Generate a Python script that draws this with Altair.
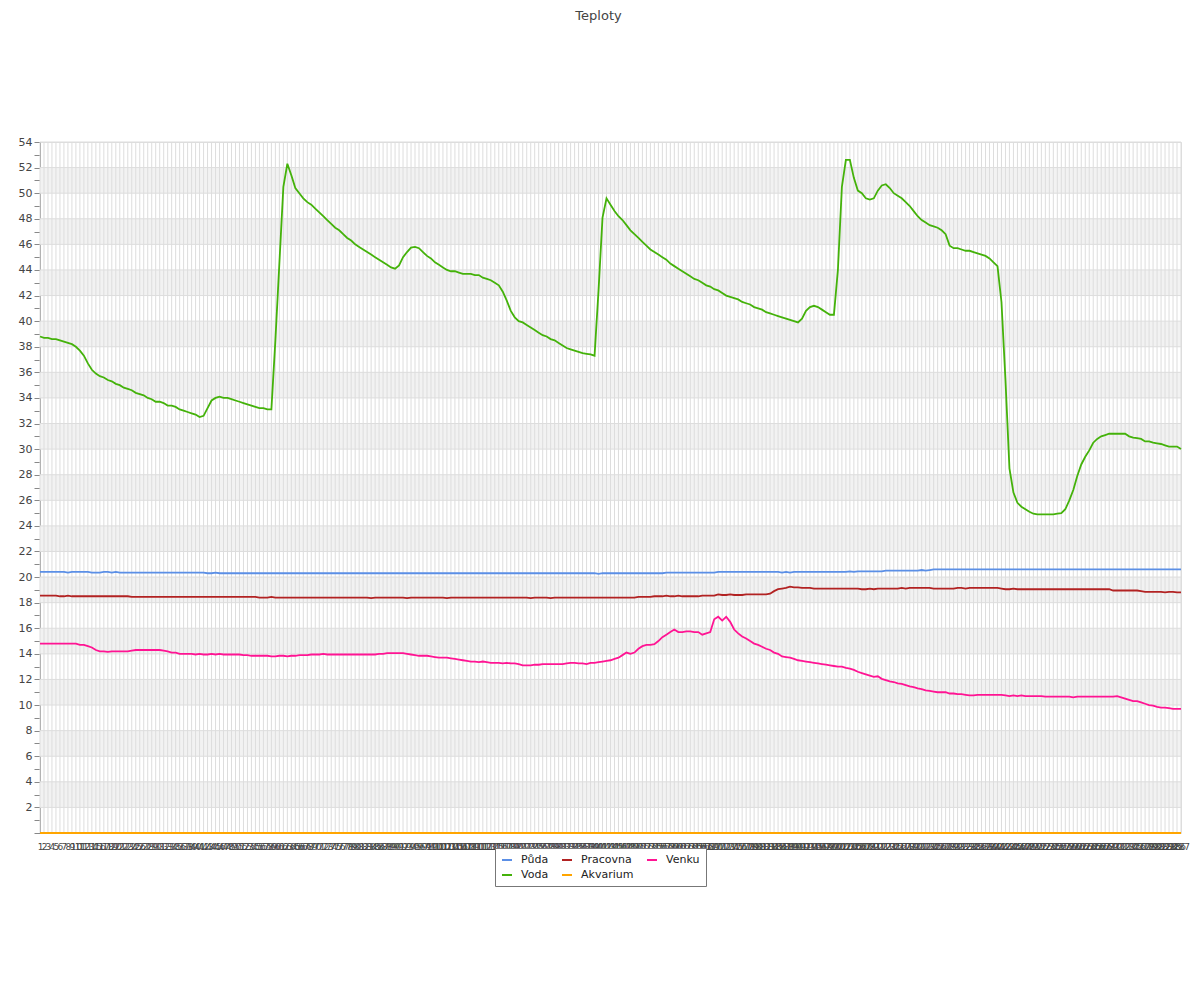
import altair as alt
import pandas as pd

labels = [str(i) for i in range(1, 288)]

puda = [
    20.4, 20.4, 20.4, 20.4, 20.4, 20.4, 20.4, 20.35, 20.4, 20.4,
    20.4, 20.4, 20.4, 20.35, 20.35, 20.35, 20.4, 20.4, 20.35, 20.4,
    20.35, 20.35, 20.35, 20.35, 20.35, 20.35, 20.35, 20.35, 20.35, 20.35,
    20.35, 20.35, 20.35, 20.35, 20.35, 20.35, 20.35, 20.35, 20.35, 20.35,
    20.35, 20.35, 20.3, 20.3, 20.35, 20.3, 20.3, 20.3, 20.3, 20.3,
    20.3, 20.3, 20.3, 20.3, 20.3, 20.3, 20.3, 20.3, 20.3, 20.3,
    20.3, 20.3, 20.3, 20.3, 20.3, 20.3, 20.3, 20.3, 20.3, 20.3,
    20.3, 20.3, 20.3, 20.3, 20.3, 20.3, 20.3, 20.3, 20.3, 20.3,
    20.3, 20.3, 20.3, 20.3, 20.3, 20.3, 20.3, 20.3, 20.3, 20.3,
    20.3, 20.3, 20.3, 20.3, 20.3, 20.3, 20.3, 20.3, 20.3, 20.3,
    20.3, 20.3, 20.3, 20.3, 20.3, 20.3, 20.3, 20.3, 20.3, 20.3,
    20.3, 20.3, 20.3, 20.3, 20.3, 20.3, 20.3, 20.3, 20.3, 20.3,
    20.3, 20.3, 20.3, 20.3, 20.3, 20.3, 20.3, 20.3, 20.3, 20.3,
    20.3, 20.3, 20.3, 20.3, 20.3, 20.3, 20.3, 20.3, 20.3, 20.3,
    20.25, 20.3, 20.3, 20.3, 20.3, 20.3, 20.3, 20.3, 20.3, 20.3,
    20.3, 20.3, 20.3, 20.3, 20.3, 20.3, 20.3, 20.35, 20.35, 20.35,
    20.35, 20.35, 20.35, 20.35, 20.35, 20.35, 20.35, 20.35, 20.35, 20.35,
    20.4, 20.4, 20.4, 20.4, 20.4, 20.4, 20.4, 20.4, 20.4, 20.4,
    20.4, 20.4, 20.4, 20.4, 20.4, 20.4, 20.35, 20.4, 20.35, 20.4,
    20.4, 20.4, 20.4, 20.4, 20.4, 20.4, 20.4, 20.4, 20.4, 20.4,
    20.4, 20.4, 20.4, 20.45, 20.4, 20.45, 20.45, 20.45, 20.45, 20.45,
    20.45, 20.45, 20.5, 20.5, 20.5, 20.5, 20.5, 20.5, 20.5, 20.5,
    20.5, 20.55, 20.5, 20.55, 20.6, 20.6, 20.6, 20.6, 20.6, 20.6,
    20.6, 20.6, 20.6, 20.6, 20.6, 20.6, 20.6, 20.6, 20.6, 20.6,
    20.6, 20.6, 20.6, 20.6, 20.6, 20.6, 20.6, 20.6, 20.6, 20.6,
    20.6, 20.6, 20.6, 20.6, 20.6, 20.6, 20.6, 20.6, 20.6, 20.6,
    20.6, 20.6, 20.6, 20.6, 20.6, 20.6, 20.6, 20.6, 20.6, 20.6,
    20.6, 20.6, 20.6, 20.6, 20.6, 20.6, 20.6, 20.6, 20.6, 20.6,
    20.6, 20.6, 20.6, 20.6, 20.6, 20.6, 20.6,
]

voda = [
    38.8, 38.7, 38.7, 38.6, 38.6, 38.5, 38.4, 38.3, 38.2, 38.0,
    37.7, 37.3, 36.7, 36.2, 35.9, 35.7, 35.6, 35.4, 35.3, 35.1,
    35.0, 34.8, 34.7, 34.6, 34.4, 34.3, 34.2, 34.0, 33.9, 33.7,
    33.7, 33.6, 33.4, 33.4, 33.3, 33.1, 33.0, 32.9, 32.8, 32.7,
    32.5, 32.6, 33.2, 33.8, 34.0, 34.1, 34.0, 34.0, 33.9, 33.8,
    33.7, 33.6, 33.5, 33.4, 33.3, 33.2, 33.2, 33.1, 33.1, 38.5,
    44.5, 50.5, 52.3, 51.4, 50.4, 50.0, 49.6, 49.3, 49.1, 48.8,
    48.5, 48.2, 47.9, 47.6, 47.3, 47.1, 46.8, 46.5, 46.3, 46.0,
    45.8, 45.6, 45.4, 45.2, 45.0, 44.8, 44.6, 44.4, 44.2, 44.1,
    44.35, 45.0, 45.4, 45.75, 45.8, 45.7, 45.4, 45.1, 44.9, 44.6,
    44.4, 44.2, 44.0, 43.9, 43.9, 43.8, 43.7, 43.7, 43.7, 43.6,
    43.6, 43.4, 43.3, 43.2, 43.0, 42.8, 42.3, 41.6, 40.8, 40.3,
    40.0, 39.9, 39.7, 39.5, 39.3, 39.1, 38.9, 38.8, 38.6, 38.5,
    38.3, 38.1, 37.9, 37.8, 37.7, 37.6, 37.5, 37.45, 37.4, 37.3,
    42.4, 48.1, 49.6, 49.1, 48.6, 48.2, 47.9, 47.5, 47.1, 46.8,
    46.5, 46.2, 45.9, 45.6, 45.4, 45.2, 45.0, 44.8, 44.5, 44.3,
    44.1, 43.9, 43.7, 43.5, 43.3, 43.2, 43.0, 42.8, 42.7, 42.5,
    42.4, 42.2, 42.0, 41.9, 41.8, 41.7, 41.5, 41.4, 41.3, 41.1,
    41.0, 40.9, 40.7, 40.6, 40.5, 40.4, 40.3, 40.2, 40.1, 40.0,
    39.9, 40.2, 40.8, 41.1, 41.2, 41.1, 40.9, 40.7, 40.5, 40.5,
    44.0, 50.5, 52.6, 52.6, 51.2, 50.2, 50.0, 49.6, 49.5, 49.6,
    50.2, 50.6, 50.7, 50.4, 50.0, 49.8, 49.6, 49.3, 49.0, 48.6,
    48.2, 47.9, 47.7, 47.5, 47.4, 47.3, 47.1, 46.8, 45.9, 45.7,
    45.7, 45.6, 45.5, 45.5, 45.4, 45.3, 45.2, 45.1, 44.9, 44.6,
    44.3, 41.5, 35.4, 28.5, 26.6, 25.8, 25.5, 25.3, 25.1, 24.95,
    24.9, 24.9, 24.9, 24.9, 24.9, 24.95, 25.0, 25.3, 26.0, 26.8,
    27.9, 28.8, 29.4, 29.9, 30.5, 30.8, 31.0, 31.1, 31.2, 31.2,
    31.2, 31.2, 31.2, 31.0, 30.9, 30.85, 30.8, 30.6, 30.6, 30.5,
    30.45, 30.4, 30.3, 30.2, 30.2, 30.2, 30.0,
]

pracovna = [
    18.55, 18.55, 18.55, 18.55, 18.55, 18.5, 18.5, 18.55, 18.5, 18.5,
    18.5, 18.5, 18.5, 18.5, 18.5, 18.5, 18.5, 18.5, 18.5, 18.5,
    18.5, 18.5, 18.5, 18.45, 18.45, 18.45, 18.45, 18.45, 18.45, 18.45,
    18.45, 18.45, 18.45, 18.45, 18.45, 18.45, 18.45, 18.45, 18.45, 18.45,
    18.45, 18.45, 18.45, 18.45, 18.45, 18.45, 18.45, 18.45, 18.45, 18.45,
    18.45, 18.45, 18.45, 18.45, 18.45, 18.4, 18.4, 18.4, 18.45, 18.4,
    18.4, 18.4, 18.4, 18.4, 18.4, 18.4, 18.4, 18.4, 18.4, 18.4,
    18.4, 18.4, 18.4, 18.4, 18.4, 18.4, 18.4, 18.4, 18.4, 18.4,
    18.4, 18.4, 18.4, 18.35, 18.4, 18.4, 18.4, 18.4, 18.4, 18.4,
    18.4, 18.4, 18.35, 18.4, 18.4, 18.4, 18.4, 18.4, 18.4, 18.4,
    18.4, 18.4, 18.35, 18.4, 18.4, 18.4, 18.4, 18.4, 18.4, 18.4,
    18.4, 18.4, 18.4, 18.4, 18.4, 18.4, 18.4, 18.4, 18.4, 18.4,
    18.4, 18.4, 18.4, 18.35, 18.4, 18.4, 18.4, 18.4, 18.35, 18.4,
    18.4, 18.4, 18.4, 18.4, 18.4, 18.4, 18.4, 18.4, 18.4, 18.4,
    18.4, 18.4, 18.4, 18.4, 18.4, 18.4, 18.4, 18.4, 18.4, 18.4,
    18.45, 18.45, 18.45, 18.45, 18.5, 18.5, 18.5, 18.55, 18.5, 18.5,
    18.55, 18.5, 18.5, 18.5, 18.5, 18.5, 18.55, 18.55, 18.55, 18.55,
    18.65, 18.6, 18.6, 18.65, 18.6, 18.6, 18.6, 18.65, 18.65, 18.65,
    18.65, 18.65, 18.65, 18.7, 18.9, 19.05, 19.1, 19.15, 19.25, 19.2,
    19.2, 19.15, 19.15, 19.15, 19.1, 19.1, 19.1, 19.1, 19.1, 19.1,
    19.1, 19.1, 19.1, 19.1, 19.1, 19.1, 19.05, 19.05, 19.1, 19.05,
    19.1, 19.1, 19.1, 19.1, 19.1, 19.1, 19.15, 19.1, 19.15, 19.15,
    19.15, 19.15, 19.15, 19.15, 19.1, 19.1, 19.1, 19.1, 19.1, 19.1,
    19.15, 19.15, 19.1, 19.15, 19.15, 19.15, 19.15, 19.15, 19.15, 19.15,
    19.15, 19.1, 19.05, 19.05, 19.1, 19.05, 19.05, 19.05, 19.05, 19.05,
    19.05, 19.05, 19.05, 19.05, 19.05, 19.05, 19.05, 19.05, 19.05, 19.05,
    19.05, 19.05, 19.05, 19.05, 19.05, 19.05, 19.05, 19.05, 19.05, 18.95,
    18.95, 18.95, 18.95, 18.95, 18.95, 18.95, 18.9, 18.85, 18.85, 18.85,
    18.85, 18.85, 18.8, 18.85, 18.85, 18.8, 18.8,
]

akvarium = [
    0, 0, 0, 0, 0, 0, 0, 0, 0, 0,
    0, 0, 0, 0, 0, 0, 0, 0, 0, 0,
    0, 0, 0, 0, 0, 0, 0, 0, 0, 0,
    0, 0, 0, 0, 0, 0, 0, 0, 0, 0,
    0, 0, 0, 0, 0, 0, 0, 0, 0, 0,
    0, 0, 0, 0, 0, 0, 0, 0, 0, 0,
    0, 0, 0, 0, 0, 0, 0, 0, 0, 0,
    0, 0, 0, 0, 0, 0, 0, 0, 0, 0,
    0, 0, 0, 0, 0, 0, 0, 0, 0, 0,
    0, 0, 0, 0, 0, 0, 0, 0, 0, 0,
    0, 0, 0, 0, 0, 0, 0, 0, 0, 0,
    0, 0, 0, 0, 0, 0, 0, 0, 0, 0,
    0, 0, 0, 0, 0, 0, 0, 0, 0, 0,
    0, 0, 0, 0, 0, 0, 0, 0, 0, 0,
    0, 0, 0, 0, 0, 0, 0, 0, 0, 0,
    0, 0, 0, 0, 0, 0, 0, 0, 0, 0,
    0, 0, 0, 0, 0, 0, 0, 0, 0, 0,
    0, 0, 0, 0, 0, 0, 0, 0, 0, 0,
    0, 0, 0, 0, 0, 0, 0, 0, 0, 0,
    0, 0, 0, 0, 0, 0, 0, 0, 0, 0,
    0, 0, 0, 0, 0, 0, 0, 0, 0, 0,
    0, 0, 0, 0, 0, 0, 0, 0, 0, 0,
    0, 0, 0, 0, 0, 0, 0, 0, 0, 0,
    0, 0, 0, 0, 0, 0, 0, 0, 0, 0,
    0, 0, 0, 0, 0, 0, 0, 0, 0, 0,
    0, 0, 0, 0, 0, 0, 0, 0, 0, 0,
    0, 0, 0, 0, 0, 0, 0, 0, 0, 0,
    0, 0, 0, 0, 0, 0, 0, 0, 0, 0,
    0, 0, 0, 0, 0, 0, 0,
]

venku = [
    14.8, 14.8, 14.8, 14.8, 14.8, 14.8, 14.8, 14.8, 14.8, 14.8,
    14.7, 14.7, 14.6, 14.5, 14.3, 14.2, 14.2, 14.15, 14.2, 14.2,
    14.2, 14.2, 14.2, 14.25, 14.3, 14.3, 14.3, 14.3, 14.3, 14.3,
    14.3, 14.25, 14.2, 14.1, 14.1, 14.0, 14.0, 14.0, 14.0, 13.95,
    14.0, 13.95, 13.95, 14.0, 13.95, 14.0, 13.95, 13.95, 13.95, 13.95,
    13.95, 13.9, 13.9, 13.85, 13.85, 13.85, 13.85, 13.85, 13.8, 13.8,
    13.85, 13.85, 13.8, 13.85, 13.85, 13.9, 13.9, 13.9, 13.95, 13.95,
    13.95, 14.0, 13.95, 13.95, 13.95, 13.95, 13.95, 13.95, 13.95, 13.95,
    13.95, 13.95, 13.95, 13.95, 13.95, 14.0, 14.0, 14.05, 14.05, 14.05,
    14.05, 14.05, 14.0, 13.95, 13.9, 13.85, 13.85, 13.85, 13.8, 13.75,
    13.7, 13.7, 13.7, 13.65, 13.6, 13.55, 13.5, 13.45, 13.4, 13.4,
    13.35, 13.4, 13.35, 13.3, 13.3, 13.3, 13.25, 13.3, 13.25, 13.25,
    13.2, 13.1, 13.1, 13.1, 13.15, 13.15, 13.2, 13.2, 13.2, 13.2,
    13.2, 13.2, 13.25, 13.3, 13.3, 13.25, 13.25, 13.2, 13.3, 13.3,
    13.35, 13.4, 13.45, 13.5, 13.6, 13.7, 13.9, 14.1, 14.0, 14.1,
    14.4, 14.6, 14.7, 14.7, 14.75, 15.0, 15.3, 15.5, 15.7, 15.9,
    15.7, 15.7, 15.75, 15.75, 15.7, 15.7, 15.5, 15.6, 15.7, 16.7,
    16.9, 16.6, 16.9, 16.5, 15.9, 15.6, 15.35, 15.2, 15.0, 14.8,
    14.7, 14.55, 14.4, 14.3, 14.1, 14.0, 13.8, 13.75, 13.7, 13.6,
    13.5, 13.45, 13.4, 13.35, 13.3, 13.25, 13.2, 13.15, 13.1, 13.05,
    13.0, 13.0, 12.9, 12.85, 12.75, 12.6, 12.5, 12.4, 12.3, 12.2,
    12.25, 12.05, 11.95, 11.85, 11.8, 11.7, 11.65, 11.55, 11.45, 11.4,
    11.3, 11.25, 11.15, 11.1, 11.05, 11.0, 11.0, 11.0, 10.9, 10.9,
    10.85, 10.85, 10.8, 10.75, 10.75, 10.8, 10.8, 10.8, 10.8, 10.8,
    10.8, 10.8, 10.75, 10.7, 10.75, 10.7, 10.75, 10.7, 10.7, 10.7,
    10.7, 10.7, 10.65, 10.65, 10.65, 10.65, 10.65, 10.65, 10.65, 10.6,
    10.65, 10.65, 10.65, 10.65, 10.65, 10.65, 10.65, 10.65, 10.65, 10.65,
    10.7, 10.6, 10.5, 10.4, 10.3, 10.3, 10.2, 10.1, 10.0, 9.95,
    9.85, 9.8, 9.8, 9.75, 9.7, 9.7, 9.7,
]

series_names = ["Půda", "Voda", "Pracovna", "Akvarium", "Venku"]
series_values = [puda, voda, pracovna, akvarium, venku]
series_colors = ["#5b8fe6", "#44b20a", "#b22222", "#ffa500", "#ff1493"]

rows = []
for name, vals in zip(series_names, series_values):
    for lab, v in zip(labels, vals):
        rows.append({"i": lab, "serie": name, "t": v})
df = pd.DataFrame(rows)

FONT = "DejaVu Sans"
x_scale = alt.Scale(type="point", padding=0, domain=labels)
y_scale = alt.Scale(domain=[0, 54], nice=False, zero=False)

x_axis = alt.Axis(
    title=None, labelAngle=0, labelOverlap=False, labelFontSize=9, labelFont=FONT,
    labelColor="#444", ticks=False, grid=False, domain=False, labelPadding=9,
    labelBound=False,
)
y_axis = alt.Axis(
    title=None, values=list(range(0, 55)), grid=False,
    labelExpr="datum.value % 2 == 0 && datum.value > 0 ? datum.label : ''",
    labelFontSize=11, labelFont=FONT, labelColor="#444", tickSize=6,
    tickColor="#888", domainColor="#888", labelPadding=2,
)

band_lo = [2, 6, 10, 14, 18, 22, 26, 30, 34, 38, 42, 46, 50]
band_hi = [4, 8, 12, 16, 20, 24, 28, 32, 36, 40, 44, 48, 52]
grid_y = list(range(2, 56, 2))

bands = alt.Chart(pd.DataFrame({"y0": band_lo, "y1": band_hi})).mark_rect(
    color="#f2f2f2"
).encode(
    x=alt.value(0), x2=alt.value(1141),
    y=alt.Y("y0:Q", scale=y_scale, axis=y_axis), y2="y1:Q",
)

vgrid = alt.Chart(pd.DataFrame({"i": labels})).mark_rule(
    color="#dddddd", strokeWidth=1
).encode(x=alt.X("i:O", scale=x_scale, axis=x_axis))

hgrid = alt.Chart(pd.DataFrame({"v": grid_y})).mark_rule(
    color="#dddddd", strokeWidth=1
).encode(y=alt.Y("v:Q", scale=y_scale, axis=y_axis))

lines = alt.Chart(df).mark_line(strokeWidth=1.8).encode(
    x=alt.X("i:O", scale=x_scale, axis=x_axis),
    y=alt.Y("t:Q", scale=y_scale, axis=y_axis),
    color=alt.Color(
        "serie:N",
        scale=alt.Scale(domain=series_names, range=series_colors),
        legend=alt.Legend(
            title=None, orient="none", legendX=455, legendY=706, columns=3,
            symbolType="stroke", symbolStrokeWidth=2, symbolSize=100,
            labelFontSize=11, labelFont=FONT, labelColor="#222",
            strokeColor="#777", fillColor="white", padding=6,
            rowPadding=4, columnPadding=9, labelOffset=8,
        ),
    ),
    detail="serie:N",
)

chart = alt.layer(bands, vgrid, hgrid, lines).properties(
    width=1141, height=691,
    title=alt.TitleParams(
        "Teploty", fontSize=13, font=FONT, fontWeight="normal", color="#444",
        offset=113, anchor="middle", dx=-12,
    ),
    padding={"left": 32, "top": 134, "right": 11, "bottom": 150},
    autosize=alt.AutoSizeParams(type="none"),
).configure_view(stroke=None).configure(background="white")

chart.save("out.html", embed_options={"renderer": "svg", "actions": False})
